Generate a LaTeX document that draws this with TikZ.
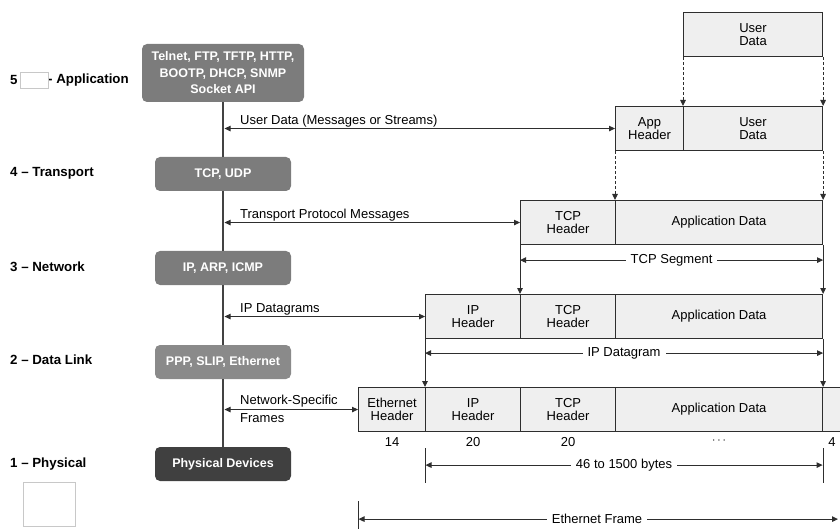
\documentclass[tikz,border=0pt]{standalone}
\usepackage{fontspec}
\setmainfont{Liberation Sans}
\usetikzlibrary{arrows.meta,calc}

\definecolor{edge}{HTML}{2E2E2E}
\definecolor{cellfill}{HTML}{EFEFEF}
\definecolor{protomid}{HTML}{7C7C7C}
\definecolor{protolight}{HTML}{8A8A8A}
\definecolor{protodark}{HTML}{404040}
\definecolor{boxline}{HTML}{C8C8C8}

\tikzset{
  layerlbl/.style={anchor=west, inner sep=0, font=\bfseries\fontsize{13.3}{15}\selectfont},
  proto/.style={rounded corners=5pt, fill=protomid, text=white, align=center,
    inner sep=0, font=\bfseries\fontsize{12.5}{16.5}\selectfont},
  cell/.style={draw=edge, fill=cellfill, line width=1.1pt, align=center, inner sep=0,
    anchor=north west, minimum height=44pt, font=\fontsize{13}{13}\selectfont},
  spine/.style={draw=edge!90!white, line width=1.1pt},
  tip/.style={-{Triangle[length=6pt,width=5.5pt]}},
  dbl/.style={{Triangle[length=6pt,width=5.5pt]}-{Triangle[length=6pt,width=5.5pt]}, draw=edge, line width=0.9pt},
  dasharrow/.style={tip, draw=edge, line width=0.9pt, dash pattern=on 3pt off 2pt},
  solidarrow/.style={tip, draw=edge, line width=0.9pt},
  dimlbl/.style={fill=white, inner xsep=5pt, inner ysep=1pt, font=\fontsize{13}{13}\selectfont},
  msglbl/.style={anchor=base west, inner sep=0, font=\fontsize{13}{13}\selectfont},
  numlbl/.style={inner sep=0, font=\fontsize{13}{13}\selectfont},
  tick/.style={draw=edge, line width=0.9pt}
}

\begin{document}
\begin{tikzpicture}[x=1pt,y=-1pt]
\useasboundingbox (0,0) rectangle (840,529);
\clip (0,0) rectangle (840,529);

% layer names
\node[layerlbl] (l5a) at (10,80) {5};
\node[layerlbl] (l5b) at (48,80) {- Application};
\draw[boxline, line width=0.6pt] (20,72) rectangle (48,88);
\node[layerlbl] (l4) at (10,173) {4 – Transport};
\node[layerlbl] (l3) at (10,267) {3 – Network};
\node[layerlbl] (l2) at (10,360) {2 – Data Link};
\node[layerlbl] (l1) at (10,464) {1 – Physical};
\draw[boxline, line width=0.6pt] (23,482) rectangle (75,526);

% protocol stack
\node[proto, minimum width=162pt, minimum height=58pt] (p5) at (223,73)
  {Telnet, FTP, TFTP, HTTP,\\BOOTP, DHCP, SNMP\\Socket API};
\node[proto, minimum width=136pt, minimum height=34pt] (p4) at (223,174) {TCP, UDP};
\node[proto, minimum width=136pt, minimum height=34pt] (p3) at (223,268) {IP, ARP, ICMP};
\node[proto, fill=protolight, minimum width=136pt, minimum height=34pt] (p2) at (223,362) {PPP, SLIP, Ethernet};
\node[proto, fill=protodark, minimum width=136pt, minimum height=34pt] (p1) at (223,464) {Physical Devices};
\coordinate (spine) at (223,0);

\draw[spine] (p5.south) -- (p4.north);
\draw[spine] (p4.south) -- (p3.north);
\draw[spine] (p3.south) -- (p2.north);
\draw[spine] (p2.south) -- (p1.north);

% user data
\node[cell, minimum width=139pt] (ud0) at (683,12) {User\\Data};

% application message
\node[cell, minimum width=68pt] (ah1) at (615,106) {App\\Header};
\node[cell, minimum width=139pt] (ud1) at (683,106) {User\\Data};

% TCP segment
\node[cell, minimum width=95pt] (th2) at (520,200) {TCP\\Header};
\node[cell, minimum width=207pt] (ad2) at (615,200) {Application Data};

% IP datagram
\node[cell, minimum width=95pt] (ih3) at (425,294) {IP\\Header};
\node[cell, minimum width=95pt] (th3) at (520,294) {TCP\\Header};
\node[cell, minimum width=207pt] (ad3) at (615,294) {Application Data};

% Ethernet frame
\node[cell, minimum width=67pt] (eh4) at (358,387) {Ethernet\\Header};
\node[cell, minimum width=95pt] (ih4) at (425,387) {IP\\Header};
\node[cell, minimum width=95pt] (th4) at (520,387) {TCP\\Header};
\node[cell, minimum width=207pt] (ad4) at (615,387) {Application Data};
\node[cell, minimum width=40pt] (tr4) at (822,387) {};

% encapsulation arrows
\draw[dasharrow] (ud0.south west) -- (ud1.north west);
\draw[dasharrow] (ud0.south east) -- (ud1.north east);
\draw[dasharrow] (ah1.south west) -- (ad2.north west);
\draw[dasharrow] (ud1.south east) -- (ad2.north east);
\draw[solidarrow] (th2.south west) -- (th3.north west);
\draw[solidarrow] (ad2.south east) -- (ad3.north east);
\draw[solidarrow] (ih3.south west) -- (ih4.north west);
\draw[solidarrow] (ad3.south east) -- (ad4.north east);

% messages passed between layers
\draw[dbl, shorten <=1.5pt] (ah1.west -| spine) -- (ah1.west);
\node[msglbl] (m5) at ($(ah1.west -| spine)+(17,-4)$) {User Data (Messages or Streams)};
\draw[dbl, shorten <=1.5pt] (th2.west -| spine) -- (th2.west);
\node[msglbl] (m4) at ($(th2.west -| spine)+(17,-4)$) {Transport Protocol Messages};
\draw[dbl, shorten <=1.5pt] (ih3.west -| spine) -- (ih3.west);
\node[msglbl] (m3) at ($(ih3.west -| spine)+(17,-4)$) {IP Datagrams};
\draw[dbl, shorten <=1.5pt] (eh4.west -| spine) -- (eh4.west);
\node[msglbl] (m2a) at ($(eh4.west -| spine)+(17,-5)$) {Network-Specific};
\node[msglbl] (m2b) at ($(eh4.west -| spine)+(17,13)$) {Frames};

% extents
\path (th2.south west) ++(0,15) coordinate (segL);
\path (ad2.south east) ++(0,15) coordinate (segR);
\draw[dbl] (segL) -- node[dimlbl] {TCP Segment} (segR);

\path (ih3.south west) ++(0,14) coordinate (dgL);
\path (ad3.south east) ++(0,14) coordinate (dgR);
\draw[dbl] (dgL) -- node[dimlbl] {IP Datagram} (dgR);

% field sizes
\node[numlbl] (n14) at ($(eh4.south)+(0,10)$) {14};
\node[numlbl] (n20a) at ($(ih4.south)+(0,10)$) {20};
\node[numlbl] (n20b) at ($(th4.south)+(0,10)$) {20};
\node[numlbl] (ndots) at ($(ad4.south)+(0,9)$) {$\cdots$};
\node[numlbl] (n4) at ($(tr4.south west)+(10,10)$) {4};

\path (ih4.south west) ++(0,16) coordinate (plT);
\path (ih4.south west) ++(0,51) coordinate (plB);
\path (ad4.south east) ++(0,16) coordinate (prT);
\path (ad4.south east) ++(0,51) coordinate (prB);
\draw[tick] (plT) -- (plB);
\draw[tick] (prT) -- (prB);
\path (ih4.south west) ++(0,33) coordinate (pyL);
\path (ad4.south east) ++(0,33) coordinate (pyR);
\draw[dbl, shorten <=0.5pt, shorten >=0.5pt] (pyL) -- node[dimlbl] {46 to 1500 bytes} (pyR);

\path (eh4.south west) ++(0,69) coordinate (efT);
\path (eh4.south west) ++(0,98) coordinate (efB);
\draw[tick] (efT) -- (efB);
\path (eh4.south west) ++(0,87) coordinate (efL);
\coordinate (efR) at (efL -| 838,0);
\draw[dbl, shorten <=0.5pt] (efL) -- node[dimlbl, pos=0.498] {Ethernet Frame} (efR);
\end{tikzpicture}
\end{document}
